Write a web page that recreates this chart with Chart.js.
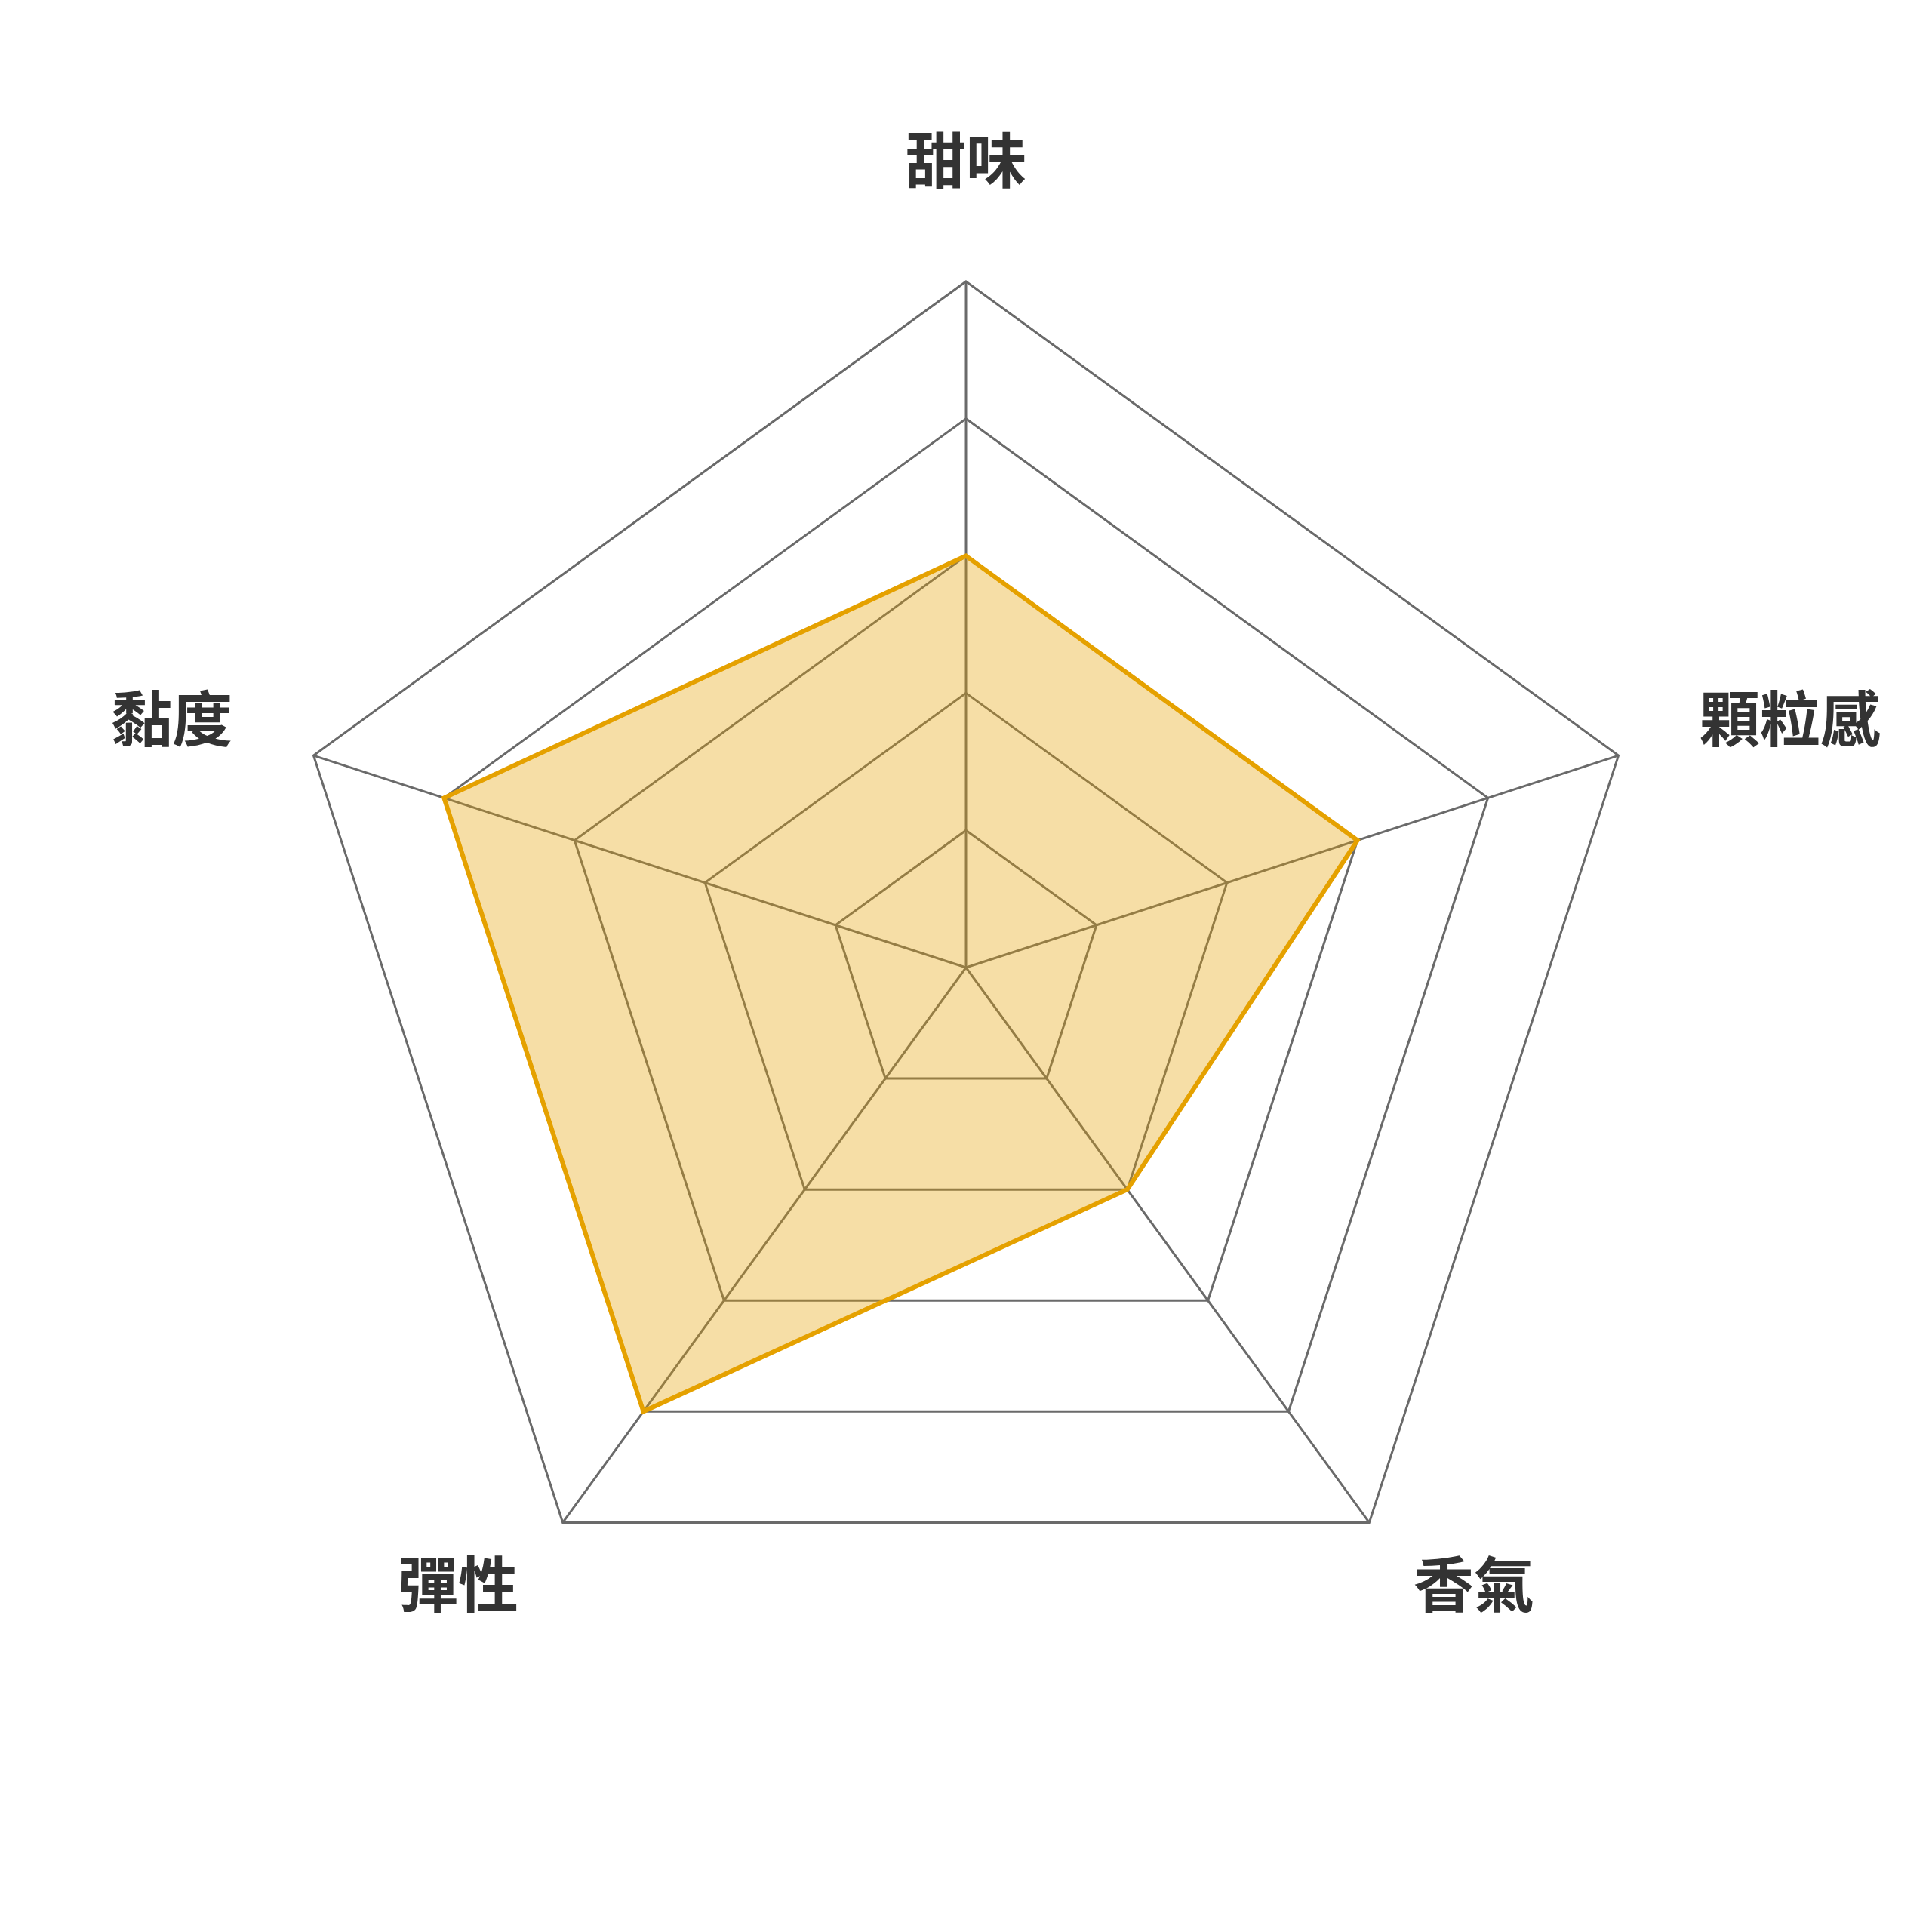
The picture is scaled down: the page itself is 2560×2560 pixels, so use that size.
<!DOCTYPE html>
<html>
<head>
<meta charset="utf-8">
<script src="https://cdn.jsdelivr.net/npm/chart.js@4/dist/chart.umd.min.js"></script>
<style>
    html, body { margin: 0; padding: 0; background: #ffffff; }
    #wrap { width: 2560px; height: 2560px; }
</style>
</head>
<body>
<div id="wrap"><canvas id="flavorRadar" width="2560" height="2560"></canvas></div>
<script>
// Change Label & Data Set Here
var labels = ['甜味', '顆粒感', '香氣', '彈性', '黏度'];
var scores = [3, 3, 2, 4, 4];
var scoreMax = 5;

const lineColor = '#e5a100';
const gridColor = '#6a6a6a';

/**
 * Label line height per axis: top label sits above its point,
 * side and bottom labels are roughly centred on theirs
 */
function labelLineHeight(index) {
    if (index === 0) {
        return 1.2;
    }
    if (index === 1 || index === 4) {
        return 0.375;
    }
    return 0.01;
}

const flavorRadar = new Chart(
    document.getElementById('flavorRadar'),
    {
        type: 'radar',
        data: {
            labels: labels,
            datasets: [{
                data: scores,
                backgroundColor: 'rgba(229, 161, 0, 0.35)',
                borderColor: lineColor,
                borderWidth: 6,
                pointRadius: 0,
                pointHoverRadius: 0,
                tension: 0,
            }]
        },
        options: {
            responsive: false,
            animation: false,
            devicePixelRatio: 1,
            layout: {
                padding: { left: 111, right: 25, top: -68, bottom: 204 }
            },
            plugins: {
                legend: { display: false },
                tooltip: { enabled: false },
            },
            scales: {
                r: {
                    min: 0,
                    max: scoreMax,
                    ticks: {
                        display: false,
                        stepSize: 1,
                    },
                    grid: {
                        color: gridColor,
                        lineWidth: 3,
                    },
                    angleLines: {
                        color: gridColor,
                        lineWidth: 3,
                    },
                    pointLabels: {
                        color: '#333333',
                        padding: (context) => {
                            return (context.index === 2 || context.index === 3) ? 100 : 113;
                        },
                        font: (context) => {
                            return {
                                family: '"Noto Sans CJK TC", "Noto Sans CJK SC", sans-serif',
                                size: 80,
                                weight: 'bold',
                                lineHeight: labelLineHeight(context.index),
                            };
                        },
                    },
                }
            }
        }
    }
);
</script>
</body>
</html>
